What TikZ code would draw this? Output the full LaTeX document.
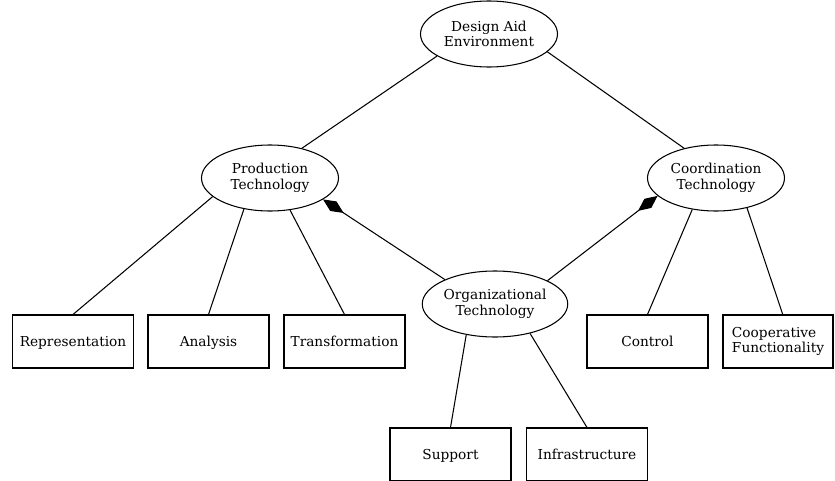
\documentclass[tikz,border=0pt]{standalone}
\usepackage{fontspec}
\setmainfont{DejaVu Serif}
\usetikzlibrary{shapes.geometric,arrows.meta}

\tikzset{
	bereich/.style={draw, line width=0.6pt, ellipse, minimum width=2.74cm,
		minimum height=1.32cm, inner sep=0pt, align=center,
		font=\fontsize{7.8}{8.8}\selectfont},
	teil/.style={draw, line width=0.6pt, rectangle, minimum width=2.42cm,
		minimum height=1.06cm, inner sep=0pt, text height=0.75em, text depth=0.22em,
		font=\fontsize{7.8}{8.8}\selectfont},
	kante/.style={line width=0.6pt},
	raute/.style={line width=0.6pt, -{Diamond[length=14pt, width=6.5pt]}}
}

\begin{document}
\begin{tikzpicture}
	\useasboundingbox (0, 0) rectangle (16.7, 9.6);
	% Ellipsen
	\node[bereich] (dae) at (9.78, 8.92) {Design Aid\\Environment};
	\node[bereich] (prod) at (5.40, 6.04) {Production\\Technology};
	\node[bereich] (coord) at (14.32, 6.04) {Coordination\\Technology};
	\node[bereich] (org) at (9.90, 3.52) {Organizational\\Technology};
	% Kaesten
	\node[teil] (repr) at (1.46, 2.77) {Representation};
	\node[teil] (anal) at (4.17, 2.77) {Analysis};
	\node[teil] (trans) at (6.89, 2.77) {Transformation};
	\node[teil] (ctrl) at (12.95, 2.77) {Control};
	\node[teil, minimum width=2.2cm, text height=, text depth=, align=left]
		(coop) at (15.56, 2.77) {Cooperative\\Functionality};
	\node[teil] (supp) at (9.01, 0.51) {Support};
	\node[teil] (infra) at (11.74, 0.51) {Infrastructure};

	% Verbindungen
	\draw[kante] (dae.203) -- (prod.43);
	\draw[kante] (dae.343) -- (coord.137);
	\draw[kante] (prod.198) -- (repr.north);
	\draw[kante] (prod.230) -- (anal.north);
	\draw[kante] (prod.302) -- (trans.north);
	\draw[kante] (coord.233) -- (ctrl.north);
	\draw[kante] (coord.316) -- (coop.80);
	\draw[kante] (org.227) -- (supp.north);
	\draw[kante] (org.320) -- (infra.north);
	% Pfeile mit Raute
	\draw[raute] (org.154) -- (prod.338);
	\draw[raute] (org.24) -- (coord.197);
\end{tikzpicture}
\end{document}
